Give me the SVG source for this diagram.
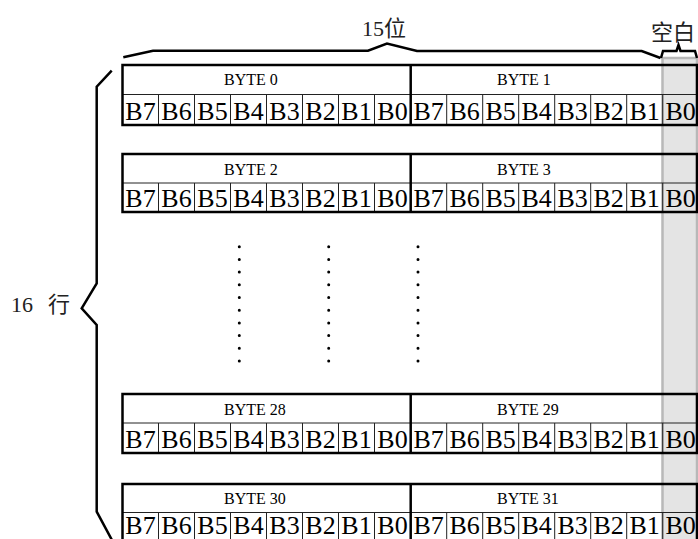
<svg xmlns="http://www.w3.org/2000/svg" width="698" height="539" viewBox="0 0 698 539">
<style>
.box{fill:none;stroke:#000;stroke-width:2.5}
.thick{stroke:#000;stroke-width:2.5}
.thin{fill:none;stroke:#222;stroke-width:1}
.brace{fill:none;stroke:#000;stroke-width:2.5;stroke-linejoin:miter}
.bit{font-family:"Liberation Serif","Times New Roman",serif;font-size:26px;text-anchor:middle;fill:#000}
.byte{font-family:"Liberation Serif","Times New Roman",serif;font-size:16px;fill:#000}
.lbl{font-family:"Liberation Serif","Noto Sans CJK SC",serif;font-size:22px;fill:#222}
.dot{fill:none;stroke:#000;stroke-width:3;stroke-linecap:round;stroke-dasharray:0 12.7}
</style>
<rect width="698" height="539" fill="#fff"/>
<g id="blank-column">
<rect x="662.5" y="58" width="34.5" height="490" fill="#e4e4e4" stroke="#b8b8b8" stroke-width="2.5"/>
</g>
<g id="row-byte0-1">
<line x1="122.5" y1="94.5" x2="697" y2="94.5" class="thin"/>
<path class="thin" d="M158.5 94.5v30.5M194.5 94.5v30.5M230.5 94.5v30.5M266.5 94.5v30.5M302.5 94.5v30.5M338.5 94.5v30.5M374.5 94.5v30.5M446.7 94.5v30.5M482.7 94.5v30.5M518.7 94.5v30.5M554.7 94.5v30.5M590.7 94.5v30.5M626.7 94.5v30.5M662.7 94.5v30.5"/>
<rect x="122.5" y="65" width="574.5" height="60" class="box"/>
<line x1="410.7" y1="65" x2="410.7" y2="125" class="thick"/>
<text class="byte" x="224" y="85">BYTE 0</text>
<text class="byte" x="497" y="85">BYTE 1</text>
<text class="bit" x="140.5" y="120">B7</text><text class="bit" x="176.5" y="120">B6</text><text class="bit" x="212.5" y="120">B5</text><text class="bit" x="248.5" y="120">B4</text><text class="bit" x="284.5" y="120">B3</text><text class="bit" x="320.5" y="120">B2</text><text class="bit" x="356.5" y="120">B1</text><text class="bit" x="392.5" y="120">B0</text>
<text class="bit" x="428.7" y="120">B7</text><text class="bit" x="464.7" y="120">B6</text><text class="bit" x="500.7" y="120">B5</text><text class="bit" x="536.7" y="120">B4</text><text class="bit" x="572.7" y="120">B3</text><text class="bit" x="608.7" y="120">B2</text><text class="bit" x="644.7" y="120">B1</text><text class="bit" x="680.7" y="120">B0</text>
</g>
<g id="row-byte2-3">
<line x1="122.5" y1="183" x2="697" y2="183" class="thin"/>
<path class="thin" d="M158.5 183v29M194.5 183v29M230.5 183v29M266.5 183v29M302.5 183v29M338.5 183v29M374.5 183v29M446.7 183v29M482.7 183v29M518.7 183v29M554.7 183v29M590.7 183v29M626.7 183v29M662.7 183v29"/>
<rect x="122.5" y="154" width="574.5" height="58" class="box"/>
<line x1="410.7" y1="154" x2="410.7" y2="212" class="thick"/>
<text class="byte" x="224" y="175">BYTE 2</text>
<text class="byte" x="497" y="175">BYTE 3</text>
<text class="bit" x="140.5" y="207">B7</text><text class="bit" x="176.5" y="207">B6</text><text class="bit" x="212.5" y="207">B5</text><text class="bit" x="248.5" y="207">B4</text><text class="bit" x="284.5" y="207">B3</text><text class="bit" x="320.5" y="207">B2</text><text class="bit" x="356.5" y="207">B1</text><text class="bit" x="392.5" y="207">B0</text>
<text class="bit" x="428.7" y="207">B7</text><text class="bit" x="464.7" y="207">B6</text><text class="bit" x="500.7" y="207">B5</text><text class="bit" x="536.7" y="207">B4</text><text class="bit" x="572.7" y="207">B3</text><text class="bit" x="608.7" y="207">B2</text><text class="bit" x="644.7" y="207">B1</text><text class="bit" x="680.7" y="207">B0</text>
</g>
<g id="ellipsis">
<line class="dot" x1="239.3" y1="246.7" x2="239.3" y2="362"/>
<line class="dot" x1="328.7" y1="246.7" x2="328.7" y2="362"/>
<line class="dot" x1="418" y1="246.7" x2="418" y2="362"/>
</g>
<g id="row-byte28-29">
<line x1="122.5" y1="423" x2="697" y2="423" class="thin"/>
<path class="thin" d="M158.5 423v30M194.5 423v30M230.5 423v30M266.5 423v30M302.5 423v30M338.5 423v30M374.5 423v30M446.7 423v30M482.7 423v30M518.7 423v30M554.7 423v30M590.7 423v30M626.7 423v30M662.7 423v30"/>
<rect x="122.5" y="394" width="574.5" height="59" class="box"/>
<line x1="410.7" y1="394" x2="410.7" y2="453" class="thick"/>
<text class="byte" x="224" y="415">BYTE 28</text>
<text class="byte" x="497" y="415">BYTE 29</text>
<text class="bit" x="140.5" y="448">B7</text><text class="bit" x="176.5" y="448">B6</text><text class="bit" x="212.5" y="448">B5</text><text class="bit" x="248.5" y="448">B4</text><text class="bit" x="284.5" y="448">B3</text><text class="bit" x="320.5" y="448">B2</text><text class="bit" x="356.5" y="448">B1</text><text class="bit" x="392.5" y="448">B0</text>
<text class="bit" x="428.7" y="448">B7</text><text class="bit" x="464.7" y="448">B6</text><text class="bit" x="500.7" y="448">B5</text><text class="bit" x="536.7" y="448">B4</text><text class="bit" x="572.7" y="448">B3</text><text class="bit" x="608.7" y="448">B2</text><text class="bit" x="644.7" y="448">B1</text><text class="bit" x="680.7" y="448">B0</text>
</g>
<g id="row-byte30-31">
<line x1="122.5" y1="512.5" x2="697" y2="512.5" class="thin"/>
<path class="thin" d="M158.5 512.5v30M194.5 512.5v30M230.5 512.5v30M266.5 512.5v30M302.5 512.5v30M338.5 512.5v30M374.5 512.5v30M446.7 512.5v30M482.7 512.5v30M518.7 512.5v30M554.7 512.5v30M590.7 512.5v30M626.7 512.5v30M662.7 512.5v30"/>
<rect x="122.5" y="484" width="574.5" height="58" class="box"/>
<line x1="410.7" y1="484" x2="410.7" y2="542" class="thick"/>
<text class="byte" x="224" y="504">BYTE 30</text>
<text class="byte" x="497" y="504">BYTE 31</text>
<text class="bit" x="140.5" y="534">B7</text><text class="bit" x="176.5" y="534">B6</text><text class="bit" x="212.5" y="534">B5</text><text class="bit" x="248.5" y="534">B4</text><text class="bit" x="284.5" y="534">B3</text><text class="bit" x="320.5" y="534">B2</text><text class="bit" x="356.5" y="534">B1</text><text class="bit" x="392.5" y="534">B0</text>
<text class="bit" x="428.7" y="534">B7</text><text class="bit" x="464.7" y="534">B6</text><text class="bit" x="500.7" y="534">B5</text><text class="bit" x="536.7" y="534">B4</text><text class="bit" x="572.7" y="534">B3</text><text class="bit" x="608.7" y="534">B2</text><text class="bit" x="644.7" y="534">B1</text><text class="bit" x="680.7" y="534">B0</text>
</g>
<g id="braces">
<path class="brace" d="M123.3 57.3L153 50.7L368 50.7L387 43.5L417 51L641.7 51L660.5 58"/>
<path class="brace" d="M661 58L663 51L676.5 51L678.5 45L680.5 51L695 51L697 58"/>
<path class="brace" d="M111.7 70.7L96.7 86.7L96.7 283.3L81.7 308.3L96.7 325L96.7 511.7L113 542"/>
</g>
<g id="labels">
<text class="lbl" x="362" y="36" font-size="22">15位</text>
<text class="lbl" x="651" y="40">空白</text>
<text class="lbl" x="11" y="312" font-size="25">16 <tspan x="48">行</tspan></text>
</g>
</svg>
